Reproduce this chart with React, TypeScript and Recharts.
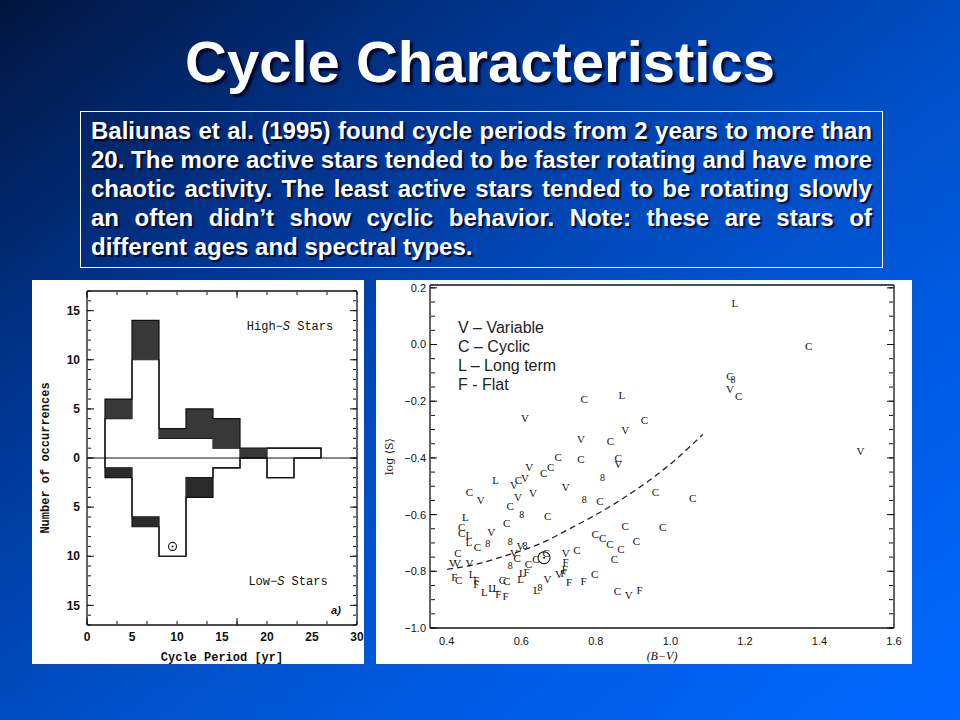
import React from 'react';
import { ComposedChart, Area, Scatter, Line, XAxis, YAxis, ReferenceLine, Label } from 'recharts';

// ---- left panel: histogram of cycle periods (3 yr bins) ----
const binStart = [2, 5, 8, 11, 14, 17, 20, 23];
const binWidth = 3;
const highOpen = [4, 10, 2, 2, 1, 0, 1, 1];
const highShaded = [2, 4, 1, 3, 3, 1, 0, 0];
const lowOpen = [1, 6, 10, 2, 1, 0, 2, 0];
const lowShaded = [1, 1, 0, 2, 0, 0, 0, 0];
const sunPeriod = [{ x: 9.5, y: -9 }];
const periodTicks = [0, 5, 10, 15, 20, 25, 30];
const countTicks = [-15, -10, -5, 0, 5, 10, 15];

// ---- right panel: log<S> vs (B-V), letters mark the variability class ----
const variable: [number, number][] = [
  [1.16, -0.156], [1.51, -0.374], [0.61, -0.258], [0.879, -0.301], [0.76, -0.333], [0.86, -0.421],
  [0.621, -0.431], [0.58, -0.494], [0.61, -0.472], [0.719, -0.504], [0.491, -0.548], [0.591, -0.539],
  [0.631, -0.525], [0.519, -0.663], [0.598, -0.71], [0.58, -0.734], [0.416, -0.769], [0.428, -0.769],
  [0.461, -0.769], [0.719, -0.737], [0.701, -0.81], [0.67, -0.828], [0.888, -0.883],
];
const cyclic: [number, number][] = [
  [1.371, -0.004], [1.16, -0.112], [1.183, -0.18], [0.769, -0.191], [0.93, -0.268], [0.839, -0.341],
  [0.699, -0.398], [0.76, -0.403], [0.86, -0.4], [0.679, -0.431], [0.66, -0.454], [0.592, -0.477],
  [0.461, -0.521], [0.57, -0.569], [0.811, -0.551], [0.96, -0.521], [1.06, -0.543], [0.671, -0.606],
  [0.561, -0.631], [0.879, -0.639], [0.979, -0.645], [0.44, -0.645], [0.44, -0.666], [0.482, -0.716],
  [0.43, -0.734], [0.589, -0.754], [0.798, -0.667], [0.818, -0.683], [0.838, -0.702], [0.867, -0.722],
  [0.909, -0.692], [0.85, -0.757], [0.749, -0.725], [0.619, -0.773], [0.639, -0.757], [0.667, -0.737],
  [0.797, -0.81], [0.432, -0.832], [0.549, -0.831], [0.561, -0.833], [0.858, -0.869],
];
const longTerm: [number, number][] = [
  [1.173, 0.145], [0.87, -0.179], [0.531, -0.478], [0.45, -0.61], [0.459, -0.671], [0.459, -0.695],
  [0.603, -0.805], [0.598, -0.828], [0.468, -0.81], [0.501, -0.872], [0.52, -0.86], [0.532, -0.859],
  [0.641, -0.867],
];
const flat: [number, number][] = [
  [0.719, -0.767], [0.614, -0.804], [0.717, -0.793], [0.713, -0.807], [0.728, -0.838], [0.767, -0.834],
  [0.42, -0.82], [0.479, -0.846], [0.479, -0.832], [0.538, -0.881], [0.558, -0.887], [0.917, -0.867],
];
const blended: [number, number][] = [
  [0.818, -0.468], [0.769, -0.545], [0.601, -0.601], [0.51, -0.701], [0.57, -0.696], [0.61, -0.708],
  [0.57, -0.778], [0.65, -0.858], [1.168, -0.122],
];
const sunColor: [number, number][] = [[0.661, -0.752]];
const fitCurve: [number, number][] = [
  [0.401, -0.793], [0.468, -0.778], [0.558, -0.745], [0.648, -0.704], [0.737, -0.645],
  [0.827, -0.58], [0.917, -0.504], [1.006, -0.415], [1.087, -0.317],
];
const colorTicks = [0.4, 0.6, 0.8, 1.0, 1.2, 1.4, 1.6];
const logSTicks = [-1.0, -0.8, -0.6, -0.4, -0.2, 0.0, 0.2];

const textLines = [
  'Baliunas et al. (1995) found cycle periods from 2 years to more than',
  '20. The more active stars tended to be faster rotating and have more',
  'chaotic activity. The least active stars tended to be rotating slowly',
  'an often didn\u2019t show cyclic behavior. Note: these are stars of',
  'different ages and spectral types.',
];
const legendLines = ['V \u2013 Variable', 'C \u2013 Cyclic', 'L \u2013 Long term', 'F - Flat'];

const steps = (from: number, to: number, step: number) => {
  const n = Math.round((to - from) / step);
  return Array.from({ length: n + 1 }, (_, i) => Math.round((from + i * step) * 1000) / 1000);
};

const histRows = [
  { x: binStart[0], hiO: 0, hiS: 0, loO: 0, loS: 0 },
  ...binStart.map((x, i) => ({ x, hiO: highOpen[i], hiS: highShaded[i], loO: -lowOpen[i], loS: -lowShaded[i] })),
  { x: binStart[binStart.length - 1] + binWidth, hiO: 0, hiS: 0, loO: 0, loS: 0 },
];
const pts = (a: [number, number][]) => a.map(([bv, s]) => ({ bv, s }));

const INK = '#111';
const blank = () => '';

// inward ticks on all four sides, drawn by thin mirrored axes that only carry tick lines
function frameAxes(xDomain: number[], yDomain: number[], xMaj: number[], xMin: number[], yMaj: number[], yMin: number[], maj: number, min: number) {
  const common = { type: 'number' as const, mirror: true, allowDataOverflow: true, interval: 0 as const, tickFormatter: blank, tickLine: { stroke: INK } };
  const frame = { stroke: INK, strokeWidth: 1.3 };
  return [
    <YAxis key="l1" yAxisId="l1" orientation="left" width={1} domain={yDomain} ticks={yMaj} tickSize={maj} axisLine={false} {...common} />,
    <YAxis key="l2" yAxisId="l2" orientation="left" width={1} domain={yDomain} ticks={yMin} tickSize={min} axisLine={false} {...common} />,
    <YAxis key="r1" yAxisId="r1" orientation="right" width={1} domain={yDomain} ticks={yMaj} tickSize={maj} axisLine={frame} {...common} />,
    <YAxis key="r2" yAxisId="r2" orientation="right" width={1} domain={yDomain} ticks={yMin} tickSize={min} axisLine={false} {...common} />,
    <XAxis key="t1" xAxisId="t1" orientation="top" height={1} domain={xDomain} ticks={xMaj} tickSize={maj} axisLine={frame} {...common} />,
    <XAxis key="t2" xAxisId="t2" orientation="top" height={1} domain={xDomain} ticks={xMin} tickSize={min} axisLine={false} {...common} />,
    <XAxis key="b1" xAxisId="b1" orientation="bottom" height={1} domain={xDomain} ticks={xMaj} tickSize={maj} axisLine={false} {...common} />,
    <XAxis key="b2" xAxisId="b2" orientation="bottom" height={1} domain={xDomain} ticks={xMin} tickSize={min} axisLine={false} {...common} />,
  ];
}

const letter = (ch: string, size = 11) => (props: any) => (
  <text x={props.cx} y={props.cy} textAnchor="middle" dominantBaseline="central"
    fontFamily="'Liberation Serif', serif" fontSize={size} fill={INK}>{ch}</text>
);
const sunMark = (r: number) => (props: any) => (
  <g>
    <circle cx={props.cx} cy={props.cy} r={r} fill="none" stroke={INK} strokeWidth={1.1} />
    <circle cx={props.cx} cy={props.cy} r={1} fill={INK} />
  </g>
);

const monoBold = { fontFamily: "'Liberation Mono', monospace", fontWeight: 'bold' as const, fontSize: 12, fill: INK };
const minus = '\u2212';

function HistogramPanel() {
  return (
    <div style={{ position: 'absolute', left: 32, top: 280, width: 332, height: 384, background: '#fff' }}>
      <ComposedChart width={332} height={384} data={histRows} margin={{ top: 11, right: 7, bottom: 0, left: 0 }}>
        <XAxis dataKey="x" type="number" domain={[0, 30]} allowDataOverflow ticks={periodTicks} interval={0}
          height={39} tickSize={0} tickMargin={7} axisLine={{ stroke: INK, strokeWidth: 1.3 }}
          tick={{ fill: INK, fontSize: 12, fontWeight: 'bold', fontFamily: "'Liberation Sans', Arial" }}>
          <Label value="Cycle Period [yr]" position="insideBottom" offset={3} style={{ ...monoBold, textAnchor: 'middle' }} />
        </XAxis>
        <YAxis type="number" domain={[-17, 17]} allowDataOverflow ticks={countTicks} interval={0} width={55}
          tickSize={0} tickMargin={7} tickFormatter={(v: number) => String(Math.abs(v))}
          axisLine={{ stroke: INK, strokeWidth: 1.3 }}
          tick={{ fill: INK, fontSize: 12, fontWeight: 'bold', fontFamily: "'Liberation Sans', Arial" }}>
          <Label value="Number of occurrences" angle={-90} position="insideLeft" offset={13} style={{ ...monoBold, textAnchor: 'middle' }} />
        </YAxis>
        {frameAxes([0, 30], [-17, 17], periodTicks, steps(0, 30, 1), countTicks, steps(-17, 17, 1), 7, 3)}
        <Area type="stepAfter" dataKey="hiO" stackId="hi" stroke={INK} strokeWidth={1.2} fill="#fff" fillOpacity={1} dot={false} activeDot={false} isAnimationActive={false} />
        <Area type="stepAfter" dataKey="hiS" stackId="hi" stroke={INK} strokeWidth={1.2} fill="#383838" fillOpacity={1} dot={false} activeDot={false} isAnimationActive={false} />
        <Area type="stepAfter" dataKey="loO" stackId="lo" stroke={INK} strokeWidth={1.2} fill="#fff" fillOpacity={1} dot={false} activeDot={false} isAnimationActive={false} />
        <Area type="stepAfter" dataKey="loS" stackId="lo" stroke={INK} strokeWidth={1.2} fill="#2a2a2a" fillOpacity={1} dot={false} activeDot={false} isAnimationActive={false} />
        <ReferenceLine y={0} stroke={INK} strokeWidth={1.2} />
        <Scatter data={sunPeriod} dataKey="y" shape={sunMark(4)} isAnimationActive={false} />
      </ComposedChart>
      <div style={{ position: 'absolute', left: 258, top: 47, transform: 'translate(-50%,-50%)', font: "12px 'Liberation Mono', monospace", color: INK, whiteSpace: 'nowrap' }}>
        High{minus}<i>S</i> Stars
      </div>
      <div style={{ position: 'absolute', left: 256, top: 302, transform: 'translate(-50%,-50%)', font: "12px 'Liberation Mono', monospace", color: INK, whiteSpace: 'nowrap' }}>
        Low{minus}<i>S</i> Stars
      </div>
      <div style={{ position: 'absolute', left: 304, top: 330, transform: 'translate(-50%,-50%)', font: "italic bold 11px 'Liberation Sans', Arial", color: INK }}>
        a)
      </div>
    </div>
  );
}

const fmtLog = (v: number) => (v < -1e-9 ? minus : '') + Math.abs(v).toFixed(1);
const tickFont = { fill: INK, fontSize: 11, fontFamily: "'Liberation Sans', Arial" };

function ScatterPanel() {
  return (
    <div style={{ position: 'absolute', left: 376, top: 280, width: 536, height: 384, background: '#fff' }}>
      <ComposedChart width={536} height={384} margin={{ top: 5, right: 18, bottom: 0, left: 0 }}>
        <XAxis dataKey="bv" type="number" domain={[0.355, 1.6]} allowDataOverflow ticks={colorTicks} interval={0}
          height={36} tickSize={0} tickMargin={9} tickFormatter={(v: number) => v.toFixed(1)}
          axisLine={{ stroke: INK, strokeWidth: 1.3 }} tick={tickFont}>
          <Label value={`(B${minus}V)`} position="insideBottom" offset={4}
            style={{ fontFamily: "'Liberation Serif', serif", fontStyle: 'italic', fontSize: 12, fill: INK, textAnchor: 'middle' }} />
        </XAxis>
        <YAxis type="number" domain={[-1, 0.21]} allowDataOverflow ticks={logSTicks} interval={0} width={54}
          tickSize={0} tickMargin={4} tickFormatter={fmtLog} axisLine={{ stroke: INK, strokeWidth: 1.3 }} tick={tickFont}>
          <Label value={'log \u27E8S\u27E9'} angle={-90} position="insideLeft" offset={13}
            style={{ fontFamily: "'DejaVu Serif', serif", fontSize: 11, fill: INK, textAnchor: 'middle' }} />
        </YAxis>
        {frameAxes([0.355, 1.6], [-1, 0.21], colorTicks, steps(0.4, 1.6, 0.05), logSTicks, steps(-1, 0.2, 0.05), 7, 4)}
        <Line data={pts(fitCurve)} dataKey="s" type="monotone" stroke="#222" strokeWidth={1.3} strokeDasharray="6 4" dot={false} activeDot={false} isAnimationActive={false} />
        <Scatter data={pts(cyclic)} dataKey="s" shape={letter('C')} isAnimationActive={false} />
        <Scatter data={pts(variable)} dataKey="s" shape={letter('V')} isAnimationActive={false} />
        <Scatter data={pts(longTerm)} dataKey="s" shape={letter('L')} isAnimationActive={false} />
        <Scatter data={pts(flat)} dataKey="s" shape={letter('F')} isAnimationActive={false} />
        <Scatter data={pts(blended)} dataKey="s" shape={letter('8', 10)} isAnimationActive={false} />
        <Scatter data={pts(sunColor)} dataKey="s" shape={sunMark(6)} isAnimationActive={false} />
      </ComposedChart>
      <div style={{ position: 'absolute', left: 82, top: 38, font: "16px 'Liberation Sans', Arial", lineHeight: '19px', color: '#222' }}>
        {legendLines.map((l) => <div key={l}>{l}</div>)}
      </div>
    </div>
  );
}

export default function App() {
  return (
    <div style={{
      position: 'absolute', left: 0, top: 0, width: 960, height: 720, overflow: 'hidden',
      background: 'linear-gradient(to bottom right, #02153e 0%, #00358f 28%, #004cc0 50%, #005ae0 70%, #0068ff 100%)',
      fontFamily: "'Liberation Sans', Arial, sans-serif",
    }}>
      <div style={{
        position: 'absolute', left: 0, top: 33, width: 960, textAlign: 'center', color: '#fff',
        fontSize: 58, lineHeight: '58px', fontWeight: 'bold', textShadow: '3px 3px 2px rgba(0,0,40,0.85)',
      }}>
        Cycle Characteristics
      </div>
      <div style={{
        position: 'absolute', left: 80, top: 111, width: 803, height: 157, boxSizing: 'border-box',
        border: '1px solid #fff', padding: '4px 10px 0 10px', color: '#fff', fontSize: 24, fontWeight: 'bold',
        lineHeight: '29px', textShadow: '2px 2px 1px rgba(0,0,40,0.8)',
      }}>
        {textLines.map((line, i) => i < textLines.length - 1 ? (
          <div key={i} style={{ display: 'flex', justifyContent: 'space-between', height: 29, whiteSpace: 'nowrap' }}>
            {line.split(' ').map((w, j) => <span key={j}>{w}</span>)}
          </div>
        ) : (
          <div key={i} style={{ height: 29, whiteSpace: 'nowrap' }}>{line}</div>
        ))}
      </div>
      <HistogramPanel />
      <ScatterPanel />
    </div>
  );
}
